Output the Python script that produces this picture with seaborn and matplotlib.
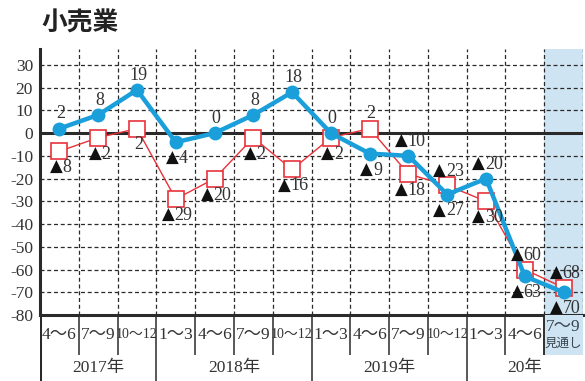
"""
Retail (小売業) business conditions chart: actual DI vs forecast DI by quarter.
"""
import numpy as np
import matplotlib
matplotlib.use("Agg")
import matplotlib.pyplot as plt
from matplotlib.offsetbox import AnnotationBbox, HPacker, TextArea
import seaborn as sns

quarters = ["4〜6", "7〜9", "10〜12",
            "1〜3", "4〜6", "7〜9", "10〜12",
            "1〜3", "4〜6", "7〜9", "10〜12",
            "1〜3", "4〜6", "7〜9"]
forecast_note = "見通し"
years = ["2017年", "2018年", "2019年", "20年"]
year_spans = [(0, 2), (3, 6), (7, 10), (11, 13)]

blue_vals = [2, 8, 19, -4, 0, 8, 18, 0, -9, -10, -27, -20, -63, -70]
red_vals = [-8, -2, 2, -29, -20, -2, -16, -2, 2, -18, -23, -30, -60, -68]

# where each value label sits: "a" above the marker, "b" below
blue_pos = ["a", "a", "a", "b", "a", "a", "a", "a", "b", "a", "b", "a", "b", "b"]
red_pos = ["b", "b", "b", "b", "b", "b", "b", "b", "a", "b", "a", "b", "a", "a"]

BLUE = "#1a9fda"
RED = "#e8323a"
INK = "#2a2a2a"
SHADE = "#cfe4f3"

sns.set_theme(style="white")
plt.rcParams["font.family"] = ["Liberation Serif", "Noto Sans CJK JP", "DejaVu Sans"]
plt.rcParams["axes.unicode_minus"] = False

W, H = 585, 381
fig = plt.figure(figsize=(W / 100, H / 100), dpi=100)
ax = fig.add_axes([40 / W, 1 - 315 / H, 543 / W, (315 - 49) / H])
tab = fig.add_axes([40 / W, 0, 543 / W, 66 / H])

xs = np.arange(len(quarters))
ax.set_xlim(-0.5, len(quarters) - 0.5)
ax.set_ylim(-80, 37)

ax.axvspan(xs[-1] - 0.5, xs[-1] + 0.5, color=SHADE, zorder=0, lw=0)

# dashed grid
dash = (0, (3.2, 2.2))
for y in range(-70, 31, 10):
    if y != 0:
        ax.axhline(y, color=INK, lw=0.9, ls=dash, zorder=1)
for b in xs + 0.5:
    ax.axvline(b, color=INK, lw=0.9, ls=dash, zorder=1)
ax.axhline(0, color=INK, lw=2.2, zorder=2)

sns.lineplot(x=xs, y=red_vals, ax=ax, color=RED, lw=1, sort=False,
             marker="s", markersize=11, markerfacecolor="white",
             markeredgecolor=RED, markeredgewidth=1.2, zorder=3)
sns.lineplot(x=xs, y=blue_vals, ax=ax, color=BLUE, lw=3.2, sort=False,
             marker="o", markersize=10, markeredgewidth=0, zorder=4)


def value_label(v):
    parts = []
    if v < 0:
        parts.append(TextArea("▲", textprops=dict(fontsize=12, color="#111",
                                                   family="DejaVu Sans")))
    parts.append(TextArea(str(abs(v)), textprops=dict(fontsize=13, color="#333")))
    return HPacker(children=parts, align="baseline", pad=0, sep=0)


for vals, pos in ((red_vals, red_pos), (blue_vals, blue_pos)):
    for x, v, p in zip(xs, vals, pos):
        dy = 10.5 if p == "a" else -11.5
        ab = AnnotationBbox(value_label(v), (x, v), xybox=(1, dy),
                            boxcoords="offset points", frameon=False, pad=0,
                            box_alignment=(0.5, 0.5), annotation_clip=False,
                            zorder=5)
        ax.add_artist(ab)

ax.set_yticks(range(-80, 31, 10))
ax.set_yticklabels([str(t) for t in range(-80, 31, 10)], fontsize=12.5, color="#333")
ax.set_xticks([])
ax.tick_params(axis="y", length=0, pad=5)
for s in ("top", "right"):
    ax.spines[s].set_visible(False)
for s in ("left", "bottom"):
    ax.spines[s].set_color(INK)
    ax.spines[s].set_linewidth(2.2)

# category / year table under the plot
tab.set_xlim(ax.get_xlim())
tab.set_ylim(0, 66)
tab.axis("off")
tab.axvspan(xs[-1] - 0.5, xs[-1] + 0.5, ymin=26 / 66, ymax=1, color=SHADE, lw=0)
tab.axvline(-0.5, color=INK, lw=2.2)
year_breaks = {e + 0.5 for _, e in year_spans[:-1]}
for b in xs[:-1] + 0.5:
    if b in year_breaks:
        tab.vlines(b, 0, 66, color=INK, lw=1.1)
    else:
        tab.vlines(b, 26, 66, color=INK, lw=1.1)
tab.vlines(xs[-1] - 0.5, 26, 66, color=INK, lw=1.1)

for x, q in zip(xs, quarters):
    if x == xs[-1]:
        tab.text(x, 54, q, ha="center", va="center", fontsize=12.5, color="#3a4550")
        tab.text(x, 37, forecast_note, ha="center", va="center", fontsize=9,
                 color="#3a4550")
    elif q.startswith("10"):
        tab.text(x, 46, q, ha="center", va="center", fontsize=10,
                 color="#333")
    else:
        tab.text(x, 46, q, ha="center", va="center", fontsize=12.5,
                 color="#333")
for yr, (s, e) in zip(years, year_spans):
    tab.text((xs[s] + xs[e]) / 2, 13, yr, ha="center", va="center",
             fontsize=12.5, color="#333")

fig.text(41 / W, 1 - 23 / H, "小売業", fontsize=18.5, weight="bold",
         family=["Noto Sans CJK JP"], color="#222", va="center", ha="left")

fig.savefig("out.png", dpi=100)
